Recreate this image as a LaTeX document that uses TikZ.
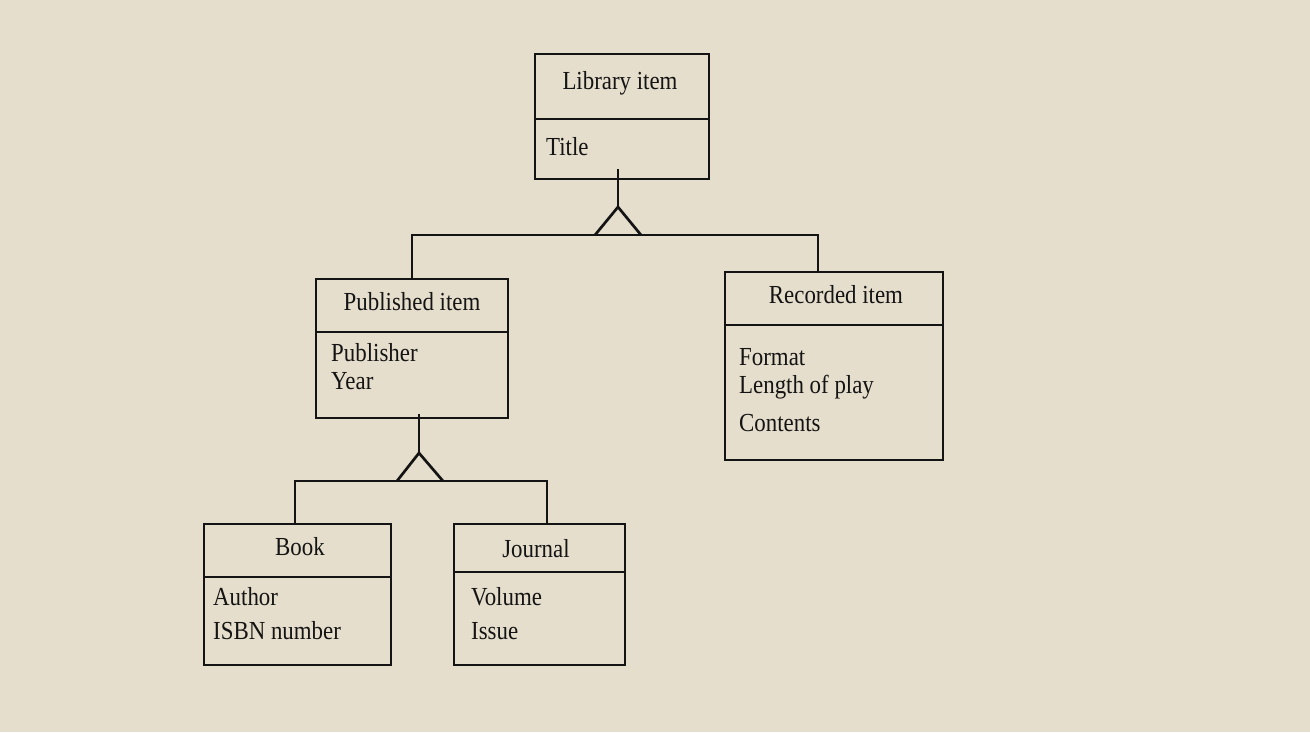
\documentclass[tikz,border=0pt]{standalone}
\usepackage{fontspec}
\setmainfont[FakeStretch=0.88]{Liberation Serif}
\definecolor{bg}{RGB}{229,222,204}
\definecolor{ink}{RGB}{20,20,20}
\begin{document}
\begin{tikzpicture}[x=1pt,y=-1pt,
  box/.style={draw=ink,line width=2.7pt,inner sep=0,outer sep=0,anchor=north west},
  ln/.style={draw=ink,line width=2.7pt},
  lbl/.style={inner sep=0,anchor=west,font=\fontsize{26}{30}\selectfont,text=ink},
  ttl/.style={inner sep=0,anchor=center,font=\fontsize{26}{30}\selectfont,text=ink}]
\fill[bg] (0,0) rectangle (1310,732);
\useasboundingbox (0,0) rectangle (1310,732);
% boxes
\node[box,minimum width=174,minimum height=125] (lib) at (535,54) {};
\node[box,minimum width=192,minimum height=139] (pub) at (316,279) {};
\node[box,minimum width=218,minimum height=188] (rec) at (725,272) {};
\node[box,minimum width=187,minimum height=141] (book) at (204,524) {};
\node[box,minimum width=171,minimum height=141] (jour) at (454,524) {};
% dividers
\draw[ln] (lib.west |- 0,119) -- (lib.east |- 0,119);
\draw[ln] (pub.west |- 0,332) -- (pub.east |- 0,332);
\draw[ln] (rec.west |- 0,325) -- (rec.east |- 0,325);
\draw[ln] (book.west |- 0,577) -- (book.east |- 0,577);
\draw[ln] (jour.west |- 0,572) -- (jour.east |- 0,572);
% texts
\node[ttl] (libt) at (620,83) {Library item};
\node[lbl] (liba) at (546,147) {Title};
\node[ttl] (pubt) at (412,302) {Published item};
\node[lbl] (puba) at (331,353) {Publisher};
\node[lbl] (pubb) at (331,381) {Year};
\node[ttl] (rect) at (836,295) {Recorded item};
\node[lbl] (reca) at (739,357) {Format};
\node[lbl] (recb) at (739,387) {Length of play};
\node[lbl] (recc) at (739,423) {Contents};
\node[ttl] (bookt) at (300,547) {Book};
\node[lbl] (booka) at (213,597) {Author};
\node[lbl] (bookb) at (213,631) {ISBN number};
\node[ttl] (jourt) at (536,549) {Journal};
\node[lbl] (joura) at (471,597) {Volume};
\node[lbl] (jourb) at (471,631) {Issue};
% generalization 1
\coordinate (s1) at (618,169);
\coordinate (a1) at (618,207);
\coordinate (l1) at (595,235);
\coordinate (r1) at (641,235);
\coordinate (hL1) at (412,235);
\coordinate (hR1) at (818,235);
\draw[ln] (s1) -- (a1);
\draw[ln,line join=miter] (l1) -- (a1) -- (r1);
\draw[ln,line cap=rect] (hL1) -- (hR1);
\draw[ln] (hL1) -- (hL1 |- pub.north);
\draw[ln] (hR1) -- (hR1 |- rec.north);
% generalization 2
\coordinate (s2) at (419,414);
\coordinate (a2) at (419,453);
\coordinate (l2) at (397,481);
\coordinate (r2) at (443,481);
\coordinate (hL2) at (295,481);
\coordinate (hR2) at (547,481);
\draw[ln] (s2) -- (a2);
\draw[ln,line join=miter] (l2) -- (a2) -- (r2);
\draw[ln,line cap=rect] (hL2) -- (hR2);
\draw[ln] (hL2) -- (hL2 |- book.north);
\draw[ln] (hR2) -- (hR2 |- jour.north);
\end{tikzpicture}
\end{document}
